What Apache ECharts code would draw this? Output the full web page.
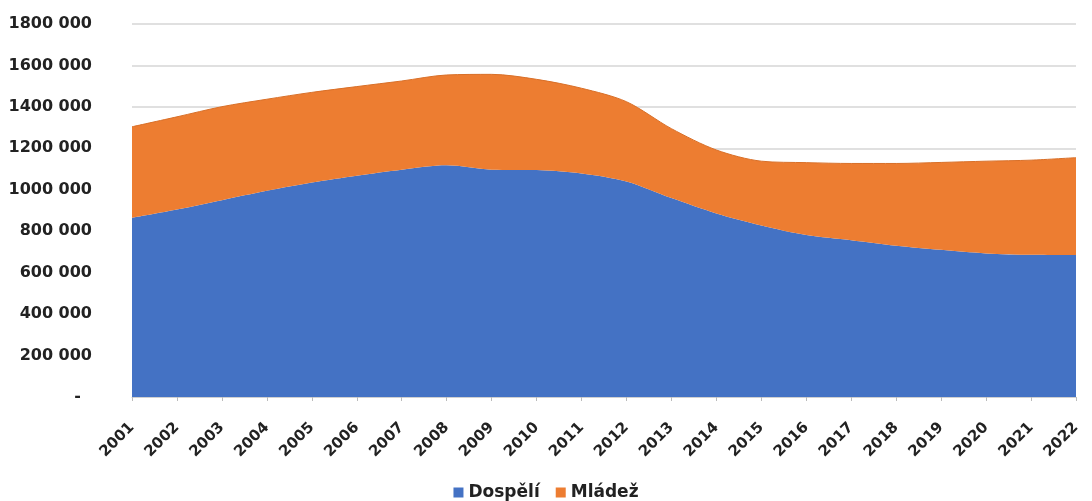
<!DOCTYPE html>
<html>
<head>
<meta charset="utf-8">
<script src="https://cdn.jsdelivr.net/npm/echarts@6/dist/echarts.min.js"></script>
<style>
html,body{margin:0;padding:0;background:#fff;}
#chart{width:1092px;height:501px;}
</style>
</head>
<body>
<div id="chart"></div>
<script>
const years = ['2001','2002','2003','2004','2005','2006','2007','2008','2009','2010','2011','2012','2013','2014','2015','2016','2017','2018','2019','2020','2021','2022'];
const dospeli = [865000,905000,950000,995000,1035000,1068000,1097000,1118000,1097000,1095000,1079000,1040000,960000,886000,828000,782000,757000,730000,710000,693000,686000,685000];
const mladez = [439000,447000,451000,442000,435000,430000,428000,436000,460000,438000,411000,385000,335000,306000,310000,349000,370000,397000,422000,445000,457000,470000];
const seriesNames = ['Dospělí','Mládež'];
const colors = ['#4472C4','#ED7D31'];

const chart = echarts.init(document.getElementById('chart'));
const font = '"DejaVu Sans", sans-serif';
chart.setOption({
  animation: false,
  color: colors,
  grid: {left: 132, right: 16, top: 24, bottom: 104, containLabel: false},
  legend: {
    top: 479, left: 'center',
    itemWidth: 10, itemHeight: 10, itemGap: 16,
    icon: 'rect',
    textStyle: {fontFamily: font, fontWeight: 'bold', fontSize: 17, color: '#222'},
    data: seriesNames
  },
  xAxis: {
    type: 'category', data: years, boundaryGap: false,
    axisLine: {show: true, lineStyle: {color: '#d0d0d0', width: 1}},
    axisTick: {show: true, alignWithLabel: true, length: 4, lineStyle: {color: '#bbb'}},
    axisLabel: {interval: 0, rotate: 45, margin: 28, fontFamily: font, fontWeight: 'bold', fontSize: 15, color: '#222'}
  },
  yAxis: {
    type: 'value', min: 0, max: 1800000, interval: 200000,
    axisLine: {show: false}, axisTick: {show: false},
    splitLine: {lineStyle: {color: '#d6d6d6', width: 1.5}},
    axisLabel: {
      margin: 40, fontFamily: font, fontWeight: 'bold', fontSize: 16, color: '#222',
      formatter: function(v){ if (v === 0) return '-  '; return Math.round(v/1000) + ' 000'; }
    }
  },
  series: [
    {name: seriesNames[0], type: 'line', stack: 'total', data: dospeli, smooth: 0.3, symbol: 'none',
     lineStyle: {width: 0}, areaStyle: {color: colors[0], opacity: 1}},
    {name: seriesNames[1], type: 'line', stack: 'total', data: mladez, smooth: 0.3, symbol: 'none',
     lineStyle: {width: 1, color: '#d86f28'}, areaStyle: {color: colors[1], opacity: 1}}
  ]
});
</script>
</body>
</html>
